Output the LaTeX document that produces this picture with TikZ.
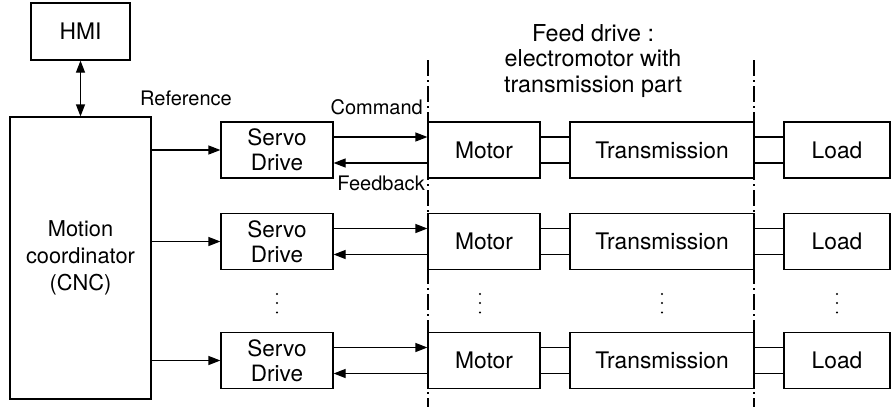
\documentclass[tikz,border=0pt]{standalone}
\usepackage{fontspec}
\setmainfont{TeX Gyre Heros}
\usetikzlibrary{arrows.meta}
\begin{document}
\begin{tikzpicture}[x=1pt,y=-1pt,
  box/.style={draw,line width=1.2pt,minimum height=56pt,inner sep=0pt,align=center,
              font=\fontsize{22.8}{25.5}\selectfont},
  lbl/.style={font=\fontsize{20}{22}\selectfont,inner sep=0pt},
  tip/.tip={Triangle[length=12pt,width=9pt]},
  arr/.style={line width=1.2pt,-tip},
  shaft/.style={line width=1.2pt},
  axisline/.style={line width=1.1pt,dash pattern=on 16pt off 4pt on 1.5pt off 4.5pt}]
\useasboundingbox (0,0) rectangle (891,407);

% controller side
\node[box,minimum width=99pt,minimum height=57pt] (hmi) at (80.5,31.5) {HMI};
\node[box,minimum width=141pt,minimum height=282pt,font=\fontsize{21.8}{27}\selectfont]
  (mc) at (80.5,258) {Motion\\coordinator\\(CNC)};
\draw[line width=1.2pt,tip-tip] (hmi) -- (mc);

% one axis per row: drive, motor, transmission, load
\foreach \i/\y in {1/150,2/241.5,3/360.5}{
  \node[box,minimum width=112pt,font=\fontsize{22.5}{25}\selectfont] (s\i) at (277,\y) {Servo\\Drive};
  \node[box,minimum width=112pt] (m\i) at (484,\y) {Motor};
  \node[box,minimum width=184pt] (t\i) at (662,\y) {Transmission};
  \node[box,minimum width=106pt] (l\i) at (837,\y) {Load};
  \draw[arr] (mc.east |- s\i.west) -- (s\i.west);
  \draw[arr] ([yshift=13pt]s\i.east) -- ([yshift=13pt]m\i.west);
  \draw[arr] ([yshift=-13pt]m\i.west) -- ([yshift=-13pt]s\i.east);
  \draw[shaft] ([yshift=13pt]m\i.east) -- ([yshift=13pt]t\i.west);
  \draw[shaft] ([yshift=-13pt]m\i.east) -- ([yshift=-13pt]t\i.west);
  \draw[shaft] ([yshift=13pt]t\i.east) -- ([yshift=13pt]l\i.west);
  \draw[shaft] ([yshift=-13pt]t\i.east) -- ([yshift=-13pt]l\i.west);
}

% signal labels
\node[lbl] (ref) at (186,98) {Reference};
\node[lbl,anchor=east] (cmd) at (423,107) {Command};
\node[lbl,anchor=east] (fbk) at (425,183) {Feedback};

% feed drive boundary
\coordinate (fa) at (428,60);
\coordinate (fb) at (428,407);
\coordinate (fc) at (754,60);
\coordinate (fd) at (754,407);
\draw[axisline] (fa) -- (fb);
\draw[axisline] (fc) -- (fd);
\node[align=center,inner sep=0pt,font=\fontsize{23.3}{25.5}\selectfont] (fdt) at (593,61)
  {Feed drive :\\electromotor with\\transmission part};

% further axes omitted
\foreach \x in {277,480,662,837}
  \foreach \y in {294,303,312.5}
    \fill (\x,\y) circle (1.1pt);
\end{tikzpicture}
\end{document}
